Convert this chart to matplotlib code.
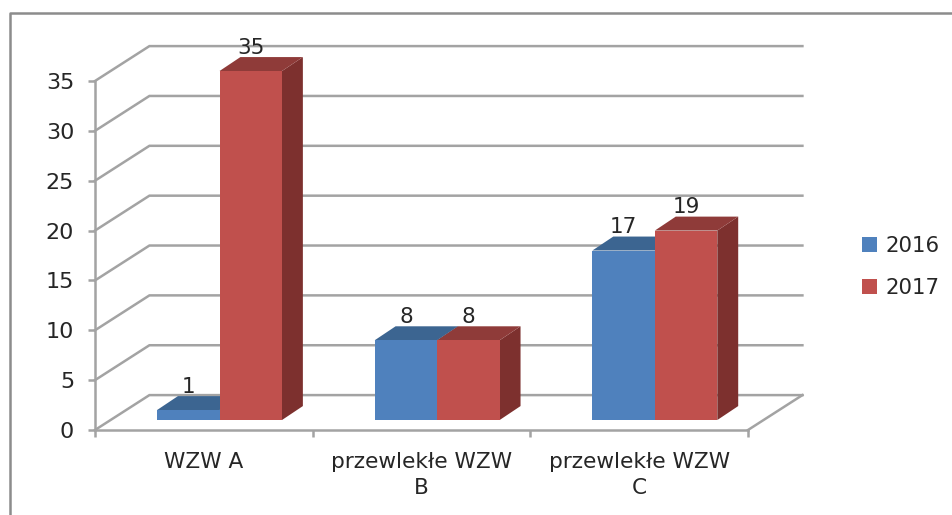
import matplotlib
matplotlib.use("Agg")
import matplotlib.pyplot as plt
from matplotlib.lines import Line2D
from matplotlib.patches import Patch, Polygon

categories = ["WZW A", "przewlekłe WZW\nB", "przewlekłe WZW\nC"]
series_names = ["2016", "2017"]
values_2016 = [1, 8, 17]
values_2017 = [35, 8, 19]
y_ticks = [0, 5, 10, 15, 20, 25, 30, 35]

GRID = "#a3a3a3"
TEXT = "#262626"
FRONT = ["#4f81bd", "#c0504d"]
TOP = ["#3c6591", "#8f3b39"]
SIDE = ["#345680", "#7d302e"]

# oblique projection, in data units: full floor depth and one bar's depth
WALL_DX, WALL_DY = 0.25, 3.5
BAR_DX, BAR_DY = 0.096, 1.4
BAR_OFF_X, BAR_OFF_Y = 0.072, 1.0
BAR_W = 0.287

def draw_bar(ax, left, value, idx):
  x0 = left + BAR_OFF_X
  x1 = x0 + BAR_W
  y0 = BAR_OFF_Y
  y1 = y0 + value
  ax.add_patch(Polygon([(x1, y0), (x1 + BAR_DX, y0 + BAR_DY), (x1 + BAR_DX, y1 + BAR_DY), (x1, y1)],
                       fc=SIDE[idx], ec="none", zorder=3 + idx, clip_on=False))
  ax.add_patch(Polygon([(x0, y1), (x1, y1), (x1 + BAR_DX, y1 + BAR_DY), (x0 + BAR_DX, y1 + BAR_DY)],
                       fc=TOP[idx], ec="none", zorder=3 + idx, clip_on=False))
  ax.add_patch(Polygon([(x0, y0), (x1, y0), (x1, y1), (x0, y1)],
                       fc=FRONT[idx], ec="none", zorder=3 + idx, clip_on=False))
  ax.annotate(str(value), ((x0 + x1) / 2, y1 + BAR_DY), xytext=(0, -0.5), textcoords="offset points",
              ha="center", va="bottom", fontsize=15.5, color=TEXT, zorder=6, annotation_clip=False)

plt.rcParams["font.family"] = ["DejaVu Sans"]

W, H = 952, 515
fig = plt.figure(figsize=(W / 100, H / 100), dpi=100)
ax = fig.add_axes([95 / W, (H - 430) / H, (748 - 95) / W, (430 - 81) / H])
ax.set_xlim(0, 3)
ax.set_ylim(0, 35)
ax.patch.set_visible(False)

for s in ["top", "right"]:
  ax.spines[s].set_visible(False)
for s in ["left", "bottom"]:
  ax.spines[s].set_color(GRID)
  ax.spines[s].set_linewidth(1.8)

ax.set_yticks(y_ticks)
ax.set_xticks([0, 1, 2, 3])
ax.set_xticklabels([])
ax.set_xticks([0.5, 1.5, 2.5], minor=True)
ax.set_xticklabels(categories, minor=True, fontsize=15.6, color=TEXT, linespacing=1.35)
ax.tick_params(axis="x", which="minor", length=0, pad=16)
ax.tick_params(axis="x", which="major", length=5, width=1.8, color=GRID)
ax.tick_params(axis="y", length=5, width=1.8, color=GRID, labelsize=16, labelcolor=TEXT, pad=10)

# walls: a diagonal and a back line for each tick, plus the floor's right edge
for t in y_ticks:
  ax.plot([0, WALL_DX, 3 + WALL_DX], [t, t + WALL_DY, t + WALL_DY], color=GRID, lw=1.8, zorder=1,
          clip_on=False, solid_joinstyle="miter")
ax.plot([3, 3 + WALL_DX], [0, WALL_DY], color=GRID, lw=1.8, zorder=1, clip_on=False)

for i in range(len(categories)):
  draw_bar(ax, i + 0.5 - BAR_W, values_2016[i], 0)
  draw_bar(ax, i + 0.5, values_2017[i], 1)

handles = [Patch(fc=FRONT[0], ec="none"), Patch(fc=FRONT[1], ec="none")]
fig.legend(handles, series_names, loc="center left", bbox_to_anchor=(862 / W, (H - 267) / H), frameon=False,
           fontsize=15.3, labelcolor=TEXT, handlelength=0.72, handleheight=0.72, handletextpad=0.4,
           labelspacing=1.05, borderpad=0, borderaxespad=0)

# outer chart border, open on the right and bottom
fig.add_artist(Line2D([10 / W, 10 / W, 1], [0, (H - 13) / H, (H - 13) / H], color="#8c8c8c", lw=1.8))

fig.savefig("out.png", dpi=100)
